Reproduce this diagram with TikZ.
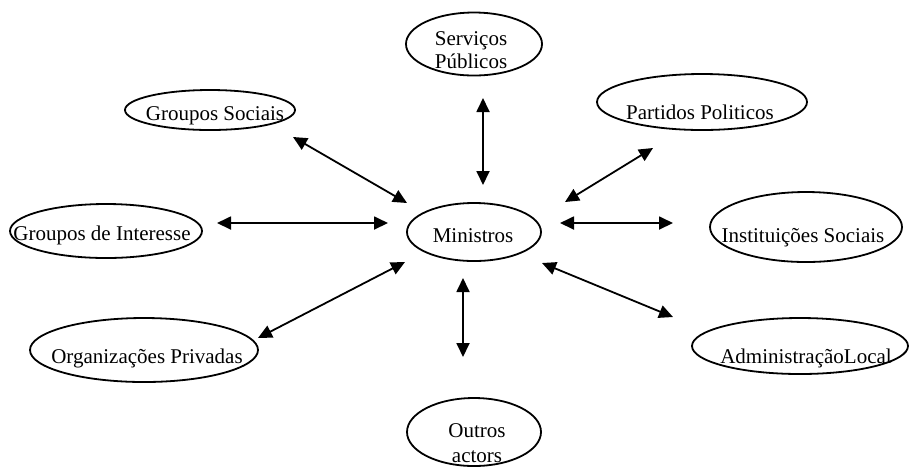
\documentclass[tikz,border=0pt]{standalone}
\usepackage{fontspec}
\setmainfont{Liberation Serif}
\usetikzlibrary{arrows.meta,shapes.geometric}
\begin{document}
\begin{tikzpicture}[x=0.5pt,y=-0.5pt,
  oval/.style={draw,ellipse,line width=0.9pt,inner sep=0pt},
  lbl/.style={anchor=base,inner sep=0pt,font=\fontsize{10.5}{12.5}\selectfont},
  link/.style={line width=0.9pt,{Triangle[length=7pt,width=6.5pt]}-{Triangle[length=7pt,width=6.5pt]}}]
\useasboundingbox (0,0) rectangle (909,468);
% ellipses
\node[oval,minimum width=68pt,minimum height=31.5pt] (serv) at (474,44) {};
\node[oval,minimum width=85pt,minimum height=20pt] (gs) at (210,110) {};
\node[oval,minimum width=96pt,minimum height=27pt] (gi) at (106,231) {};
\node[oval,minimum width=67pt,minimum height=29pt] (min) at (474,232) {};
\node[oval,minimum width=105pt,minimum height=28pt] (pp) at (702,102) {};
\node[oval,minimum width=96pt,minimum height=35pt] (is) at (806,227) {};
\node[oval,minimum width=108pt,minimum height=28pt] (al) at (800,346) {};
\node[oval,minimum width=114pt,minimum height=32pt] (op) at (144,350) {};
\node[oval,minimum width=67pt,minimum height=34pt] (oa) at (474,432) {};
% texts
\node[lbl] (tserv1) at (471,45) {Serviços};
\node[lbl] (tserv2) at (471,68) {Públicos};
\node[lbl] (tgs) at (215,120) {Groupos Sociais};
\node[lbl] (tgi) at (102,240) {Groupos de Interesse};
\node[lbl] (tmin) at (473,242) {Ministros};
\node[lbl] (tpp) at (700,119) {Partidos Politicos};
\node[lbl] (tis) at (803,242) {Instituições Sociais};
\node[lbl] (tal) at (806,363) {AdministraçãoLocal};
\node[lbl] (top) at (147,363) {Organizações Privadas};
\node[lbl] (toa1) at (477,437) {Outros};
\node[lbl] (toa2) at (477,462) {actors};
% arrow end points
\coordinate (a1) at (293,137); \coordinate (b1) at (407,203);
\coordinate (a2) at (483,98);  \coordinate (b2) at (483,185);
\coordinate (a3) at (653,148); \coordinate (b3) at (565,202);
\coordinate (a4) at (217,223); \coordinate (b4) at (388,223);
\coordinate (a5) at (673,223); \coordinate (b5) at (560,223);
\coordinate (a6) at (258,338); \coordinate (b6) at (405,262);
\coordinate (a7) at (673,317); \coordinate (b7) at (542,263);
\coordinate (a8) at (463,357); \coordinate (b8) at (463,278);
\foreach \i in {1,...,8}{\draw[link] (a\i) -- (b\i);}
\end{tikzpicture}
\end{document}
